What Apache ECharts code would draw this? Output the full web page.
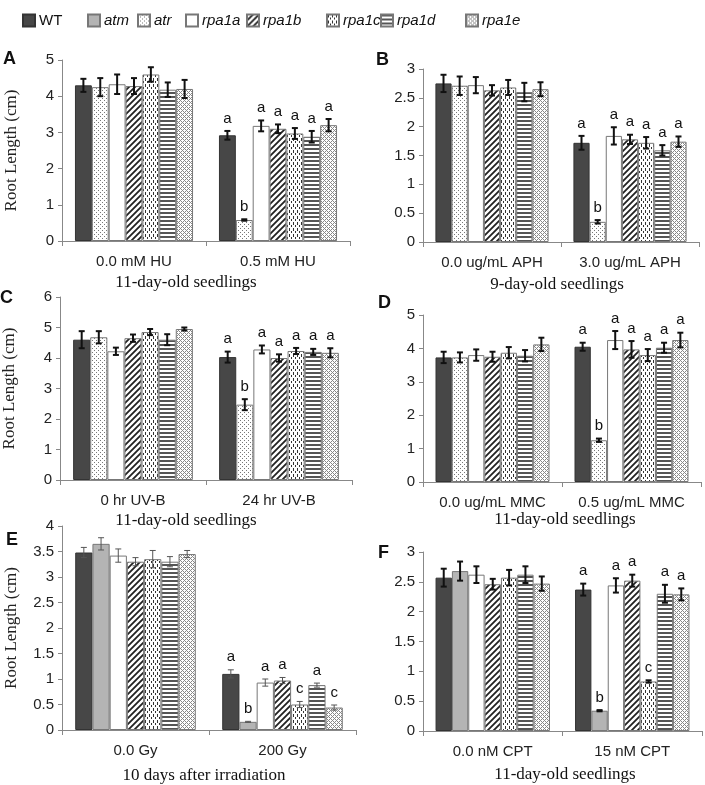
<!DOCTYPE html>
<html>
<head>
<meta charset="utf-8">
<script src="https://cdn.jsdelivr.net/npm/echarts@6/dist/echarts.min.js"></script>
<style>
  html, body { margin: 0; padding: 0; background: #fff; }
  #chart { width: 705px; height: 785px; }
</style>
</head>
<body>
<div id="chart"></div>
<script>
// genotypes
var genoAD = ['WT', 'atr', 'rpa1a', 'rpa1b', 'rpa1c', 'rpa1d', 'rpa1e'];
var genoEF = ['WT', 'atm', 'rpa1a', 'rpa1b', 'rpa1c', 'rpa1d', 'rpa1e'];
var legendNames = ['WT', 'atm', 'atr', 'rpa1a', 'rpa1b', 'rpa1c', 'rpa1d', 'rpa1e'];

// A - hydroxyurea
var catsA = ['0.0 mM HU', '0.5 mM HU'];
var meanA = [[4.30, 4.25, 4.33, 4.28, 4.60, 4.18, 4.20], [2.92, 0.58, 3.18, 3.10, 2.97, 2.88, 3.20]];
var errA  = [[0.18, 0.25, 0.27, 0.22, 0.20, 0.20, 0.25], [0.12, 0.02, 0.15, 0.12, 0.15, 0.16, 0.17]];
var letA  = ['a', 'b', 'a', 'a', 'a', 'a', 'a'];

// B - aphidicolin
var catsB = ['0.0 ug/mL APH', '3.0 ug/mL APH'];
var meanB = [[2.75, 2.71, 2.72, 2.63, 2.68, 2.60, 2.65], [1.72, 0.35, 1.84, 1.78, 1.72, 1.59, 1.74]];
var errB  = [[0.15, 0.16, 0.14, 0.09, 0.13, 0.16, 0.12], [0.12, 0.03, 0.15, 0.08, 0.10, 0.09, 0.09]];
var letB  = ['a', 'b', 'a', 'a', 'a', 'a', 'a'];

// C - UV-B
var catsC = ['0 hr UV-B', '24 hr UV-B'];
var meanC = [[4.60, 4.68, 4.22, 4.65, 4.85, 4.60, 4.95], [4.03, 2.47, 4.28, 4.00, 4.23, 4.20, 4.17]];
var errC  = [[0.28, 0.20, 0.12, 0.12, 0.10, 0.18, 0.05], [0.18, 0.18, 0.13, 0.12, 0.10, 0.10, 0.15]];
var letC  = ['a', 'b', 'a', 'a', 'a', 'a', 'a'];

// D - mitomycin C
var catsD = ['0.0 ug/mL MMC', '0.5 ug/mL MMC'];
var meanD = [[3.73, 3.73, 3.80, 3.75, 3.87, 3.78, 4.12], [4.05, 1.25, 4.25, 3.97, 3.80, 4.02, 4.25]];
var errD  = [[0.17, 0.15, 0.17, 0.15, 0.17, 0.17, 0.20], [0.12, 0.05, 0.27, 0.25, 0.18, 0.15, 0.22]];
var letD  = ['a', 'b', 'a', 'a', 'a', 'a', 'a'];

// E - gamma irradiation
var catsE = ['0.0 Gy', '200 Gy'];
var meanE = [[3.48, 3.65, 3.42, 3.30, 3.35, 3.30, 3.45], [1.10, 0.16, 0.93, 0.97, 0.50, 0.88, 0.44]];
var errE  = [[0.10, 0.12, 0.13, 0.08, 0.17, 0.10, 0.07], [0.08, 0.01, 0.07, 0.06, 0.06, 0.04, 0.05]];
var letE  = ['a', 'b', 'a', 'a', 'c', 'a', 'c'];

// F - camptothecin
var catsF = ['0.0 nM CPT', '15 nM CPT'];
var meanF = [[2.57, 2.68, 2.62, 2.46, 2.57, 2.62, 2.47], [2.37, 0.34, 2.44, 2.52, 0.83, 2.30, 2.29]];
var errF  = [[0.15, 0.16, 0.14, 0.09, 0.13, 0.14, 0.12], [0.10, 0.01, 0.12, 0.10, 0.02, 0.15, 0.10]];
var letF  = ['a', 'b', 'a', 'a', 'c', 'a', 'a'];

var serifFont = '"Liberation Serif", "DejaVu Serif", serif';
var sansFont = '"Liberation Sans", Arial, sans-serif';

// fill patterns
function makePattern(w, h, draw) {
    var c = document.createElement('canvas');
    c.width = w; c.height = h;
    var ctx = c.getContext('2d');
    ctx.fillStyle = '#fff';
    ctx.fillRect(0, 0, w, h);
    draw(ctx);
    return { image: c, repeat: 'repeat' };
}
var fills = {
    WT: '#474747',
    atm: '#b4b4b4',
    atr: makePattern(4, 4, function (ctx) {
        ctx.fillStyle = '#777';
        ctx.fillRect(0, 0, 1, 1);
        ctx.fillRect(2, 2, 1, 1);
    }),
    rpa1a: '#ffffff',
    rpa1b: makePattern(6, 6, function (ctx) {
        ctx.strokeStyle = '#222';
        ctx.lineWidth = 1.8;
        ctx.beginPath();
        ctx.moveTo(-1, 7); ctx.lineTo(7, -1);
        ctx.moveTo(-1, 1); ctx.lineTo(1, -1);
        ctx.moveTo(5, 7); ctx.lineTo(7, 5);
        ctx.stroke();
    }),
    rpa1c: makePattern(4, 6, function (ctx) {
        ctx.fillStyle = '#333';
        ctx.fillRect(1, 0, 1, 3);
        ctx.fillRect(3, 3, 1, 2);
    }),
    rpa1d: makePattern(4, 4, function (ctx) {
        ctx.fillStyle = '#555';
        ctx.fillRect(0, 0, 4, 2);
    }),
    rpa1e: makePattern(4, 4, function (ctx) {
        ctx.fillStyle = '#888';
        ctx.fillRect(0, 0, 1, 1);
        ctx.fillRect(2, 2, 1, 1);
        ctx.fillRect(1, 1, 1, 1);
        ctx.fillRect(3, 3, 1, 1);
        ctx.fillRect(3, 1, 1, 1);
        ctx.fillRect(1, 3, 1, 1);
    })
};

var panels = [
    { cats: catsA, mean: meanA, err: errA, let: letA, geno: genoAD, max: 5, step: 1,   grid: { left: 62,  top: 60,  width: 288, height: 181 }, thin: false },
    { cats: catsB, mean: meanB, err: errB, let: letB, geno: genoAD, max: 3, step: 0.5, grid: { left: 423, top: 69,  width: 276, height: 173 }, thin: false },
    { cats: catsC, mean: meanC, err: errC, let: letC, geno: genoAD, max: 6, step: 1,   grid: { left: 60,  top: 297, width: 292, height: 183 }, thin: false },
    { cats: catsD, mean: meanD, err: errD, let: letD, geno: genoAD, max: 5, step: 1,   grid: { left: 423, top: 315, width: 278, height: 167 }, thin: false },
    { cats: catsE, mean: meanE, err: errE, let: letE, geno: genoEF, max: 4, step: 0.5, grid: { left: 62,  top: 526, width: 294, height: 204 }, thin: true },
    { cats: catsF, mean: meanF, err: errF, let: letF, geno: genoEF, max: 3, step: 0.5, grid: { left: 423, top: 552, width: 279, height: 179 }, thin: false }
];
var catGap = 0.18;

var grids = [], xAxes = [], yAxes = [], series = [];
panels.forEach(function (p, pi) {
    grids.push(p.grid);
    xAxes.push({
        type: 'category', gridIndex: pi, data: p.cats,
        axisLine: { lineStyle: { color: '#888', width: 1 } },
        axisTick: { show: true, length: 5, lineStyle: { color: '#888' } },
        axisLabel: { color: '#222', fontSize: 15, fontFamily: sansFont, margin: 13 }
    });
    yAxes.push({
        type: 'value', gridIndex: pi, min: 0, max: p.max, interval: p.step,
        name: pi % 2 === 0 ? 'Root Length (cm)' : '',
        nameLocation: 'middle', nameGap: 42,
        nameTextStyle: { fontFamily: serifFont, fontSize: 17, color: '#222' },
        axisLine: { show: true, lineStyle: { color: '#888', width: 1 } },
        axisTick: { show: true, length: 4, lineStyle: { color: '#888' } },
        axisLabel: { color: '#222', fontSize: 15, fontFamily: sansFont, margin: 8 },
        splitLine: { show: false }
    });
    p.geno.forEach(function (g, j) {
        series.push({
            name: g, type: 'bar', xAxisIndex: pi, yAxisIndex: pi,
            data: [p.mean[0][j], p.mean[1][j]],
            barGap: '0%', barCategoryGap: (catGap * 100) + '%',
            itemStyle: { color: fills[g], borderColor: g === 'WT' ? '#333' : '#777', borderWidth: 1 },
            emphasis: { disabled: true },
            silent: true
        });
    });
    var errData = [];
    for (var c = 0; c < 2; c++) {
        for (var j = 0; j < p.geno.length; j++) {
            errData.push([c, p.mean[c][j], p.err[c][j], j]);
        }
    }
    var n = p.geno.length;
    series.push({
        type: 'custom', xAxisIndex: pi, yAxisIndex: pi, data: errData, z: 5, silent: true,
        renderItem: function (params, api) {
            var c = api.value(0), m = api.value(1), e = api.value(2), j = api.value(3);
            var band = api.size([1, 0])[0];
            var bw = band * (1 - catGap) / n;
            var x = api.coord([c, 0])[0] + (j - (n - 1) / 2) * bw;
            var yTop = api.coord([c, m + e])[1];
            var yBot = api.coord([c, m - e])[1];
            var col = p.thin ? '#555' : '#111';
            var lw = p.thin ? 1 : 2;
            var cap = 3;
            var children = [
                { type: 'line', shape: { x1: x, y1: yTop, x2: x, y2: yBot }, style: { stroke: col, lineWidth: lw } },
                { type: 'line', shape: { x1: x - cap, y1: yTop, x2: x + cap, y2: yTop }, style: { stroke: col, lineWidth: lw } },
                { type: 'line', shape: { x1: x - cap, y1: yBot, x2: x + cap, y2: yBot }, style: { stroke: col, lineWidth: lw } }
            ];
            if (c === 1) {
                children.push({
                    type: 'text', x: x, y: yTop - 5,
                    style: { text: p.let[j], fill: '#111', font: '15px ' + sansFont, align: 'center', verticalAlign: 'bottom' }
                });
            }
            return { type: 'group', children: children };
        }
    });
});

var legendX = [17, 82, 132, 180, 241, 321, 375, 460];
var legends = legendNames.map(function (nm, i) {
    return {
        data: [nm], left: legendX[i], top: 8, itemWidth: 12, itemHeight: 12, itemGap: 4,
        icon: 'rect', selectedMode: false,
        textStyle: { fontSize: 15, fontFamily: sansFont, color: '#111', fontStyle: i === 0 ? 'normal' : 'italic', padding: [0, 0, 0, -1] }
    };
});

function label(txt, x, y) {
    return { type: 'text', left: x, top: y, style: { text: txt, font: 'bold 18px ' + sansFont, fill: '#111' } };
}
function sub(txt, cx, y) {
    return { type: 'text', x: cx, y: y, style: { text: txt, font: '17px ' + serifFont, fill: '#111', align: 'center', verticalAlign: 'middle' } };
}

var chart = echarts.init(document.getElementById('chart'));
chart.setOption({
    backgroundColor: '#fff',
    animation: false,
    legend: legends,
    grid: grids,
    xAxis: xAxes,
    yAxis: yAxes,
    series: series,
    graphic: [
        label('A', 3, 50), label('B', 376, 51), label('C', 0, 289),
        label('D', 378, 294), label('E', 6, 531), label('F', 378, 544),
        sub('11-day-old seedlings', 186, 283),
        sub('9-day-old seedlings', 557, 285),
        sub('11-day-old seedlings', 186, 521),
        sub('11-day-old seedlings', 565, 520),
        sub('10 days after irradiation', 204, 776),
        sub('11-day-old seedlings', 565, 775)
    ]
});
</script>
</body>
</html>
